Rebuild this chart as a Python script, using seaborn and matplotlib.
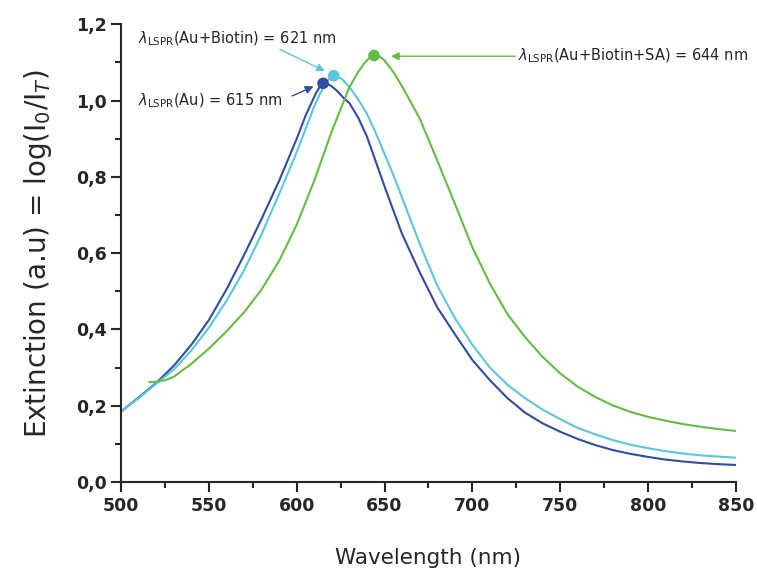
import pandas as pd
import matplotlib
matplotlib.use('Agg')
import matplotlib.pyplot as plt
import seaborn as sns
from matplotlib.ticker import MultipleLocator, FuncFormatter

# spectra (wavelength nm, extinction)
wl_au = [500, 510, 520, 530, 540, 550, 560, 570, 580, 590, 600, 605, 608, 611, 613, 615,
         617, 620, 623, 626, 630, 635, 640, 645, 650, 655, 660, 670, 680, 690, 700, 710,
         720, 730, 740, 750, 760, 770, 780, 790, 800, 810, 820, 830, 840, 850]
ext_au = [0.185, 0.222, 0.26, 0.305, 0.36, 0.425, 0.505, 0.595, 0.69, 0.79, 0.90, 0.96,
          0.99, 1.02, 1.035, 1.045, 1.045, 1.037, 1.025, 1.01, 0.993, 0.955, 0.905, 0.84,
          0.775, 0.712, 0.65, 0.55, 0.458, 0.388, 0.32, 0.267, 0.22, 0.182, 0.154, 0.132,
          0.113, 0.097, 0.084, 0.074, 0.066, 0.059, 0.054, 0.05, 0.047, 0.045]

wl_bio = [500, 510, 520, 530, 540, 550, 560, 570, 580, 590, 600, 605, 610, 613, 616, 619,
          621, 623, 626, 630, 635, 640, 645, 650, 655, 660, 670, 680, 690, 700, 710, 720,
          730, 740, 750, 760, 770, 780, 790, 800, 810, 820, 830, 840, 850]
ext_bio = [0.185, 0.22, 0.258, 0.295, 0.345, 0.405, 0.475, 0.555, 0.65, 0.755, 0.865,
           0.925, 0.985, 1.015, 1.042, 1.06, 1.065, 1.064, 1.055, 1.035, 1.003, 0.965,
           0.915, 0.86, 0.805, 0.745, 0.625, 0.515, 0.43, 0.36, 0.30, 0.255, 0.22, 0.19,
           0.165, 0.142, 0.125, 0.11, 0.098, 0.089, 0.081, 0.075, 0.07, 0.067, 0.064]

wl_sa = [516, 520, 525, 530, 540, 550, 560, 570, 580, 590, 600, 610, 620, 630, 635, 638,
         641, 644, 647, 650, 655, 660, 670, 680, 690, 700, 710, 720, 730, 740, 750, 760,
         770, 780, 790, 800, 810, 820, 830, 840, 850]
ext_sa = [0.262, 0.263, 0.267, 0.276, 0.31, 0.35, 0.395, 0.445, 0.505, 0.58, 0.675, 0.79,
          0.92, 1.035, 1.075, 1.095, 1.11, 1.118, 1.116, 1.105, 1.075, 1.037, 0.953, 0.843,
          0.73, 0.615, 0.52, 0.44, 0.38, 0.328, 0.285, 0.25, 0.223, 0.201, 0.184, 0.171,
          0.161, 0.152, 0.145, 0.139, 0.134]

names = ['Au', 'Au+Biotin', 'Au+Biotin+SA']
peaks_wl = [615, 621, 644]
peaks_ext = [1.045, 1.065, 1.118]
colors = ['#2f4ea0', '#5cc6dc', '#66bb44']

df = pd.concat([
    pd.DataFrame({'wl': wl_au, 'ext': ext_au, 'sample': names[0]}),
    pd.DataFrame({'wl': wl_bio, 'ext': ext_bio, 'sample': names[1]}),
    pd.DataFrame({'wl': wl_sa, 'ext': ext_sa, 'sample': names[2]}),
])
pk = pd.DataFrame({'wl': peaks_wl, 'ext': peaks_ext, 'sample': names})

sns.set_style('ticks')
plt.rcParams['font.family'] = ['DejaVu Sans']

fig, ax = plt.subplots(figsize=(7.57, 5.76), dpi=100)
fig.subplots_adjust(left=0.160, right=0.972, top=0.958, bottom=0.163)

pal = dict(zip(names, colors))
sns.lineplot(data=df, x='wl', y='ext', hue='sample', palette=pal, lw=1.5,
             legend=False, ax=ax, estimator=None, sort=False)
sns.scatterplot(data=pk, x='wl', y='ext', hue='sample', palette=pal, s=70,
                edgecolor='none', legend=False, ax=ax, zorder=5)

ax.set_xlim(500, 850)
ax.set_ylim(0, 1.2)
ax.xaxis.set_major_locator(MultipleLocator(50))
ax.xaxis.set_minor_locator(MultipleLocator(25))
ax.yaxis.set_major_locator(MultipleLocator(0.2))
ax.yaxis.set_minor_locator(MultipleLocator(0.1))
ax.yaxis.set_major_formatter(FuncFormatter(lambda v, p: f'{v:.1f}'.replace('.', ',')))
ax.tick_params(which='major', direction='out', length=7, width=1.5, labelsize=12.5)
ax.tick_params(which='minor', direction='out', length=4, width=1.5)
for lab in ax.get_xticklabels() + ax.get_yticklabels():
    lab.set_fontweight('bold')
for s in ['left', 'bottom']:
    ax.spines[s].set_linewidth(1.5)
sns.despine(ax=ax)

ax.set_xlabel('Wavelength (nm)', fontsize=15.5, labelpad=24)
ax.set_ylabel(r'Extinction (a.u) = log(I$_0$/I$_T$)', fontsize=20, labelpad=16)

# annotations
ax.text(509.5, 1.163, r'$\lambda_{\rm LSPR}$(Au+Biotin) = 621 nm', fontsize=10.5, va='center')
ax.annotate('', xy=(617.5, 1.074), xytext=(589, 1.137),
            arrowprops=dict(arrowstyle='-|>', color=colors[1], lw=1, mutation_scale=12))
ax.text(509.5, 1.0, r'$\lambda_{\rm LSPR}$(Au) = 615 nm', fontsize=10.5, va='center')
ax.annotate('', xy=(611, 1.04), xytext=(596, 1.009),
            arrowprops=dict(arrowstyle='-|>', color=colors[0], lw=1, mutation_scale=12))
ax.text(726, 1.116, r'$\lambda_{\rm LSPR}$(Au+Biotin+SA) = 644 nm', fontsize=10.5, va='center')
ax.annotate('', xy=(652, 1.116), xytext=(726, 1.116),
            arrowprops=dict(arrowstyle='-|>', color=colors[2], lw=1, mutation_scale=12))

fig.savefig('out.png', dpi=100)
